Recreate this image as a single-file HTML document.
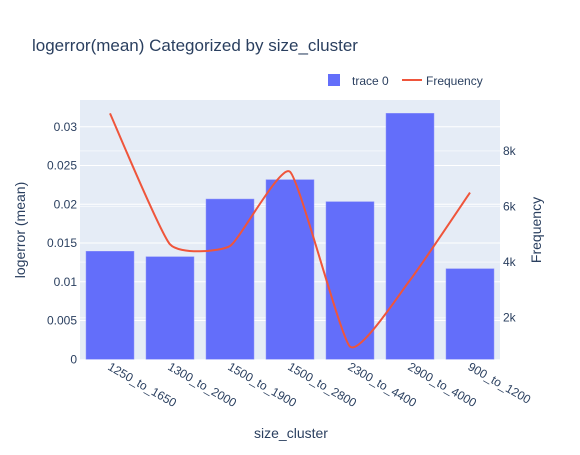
<!DOCTYPE html>
<html><head><meta charset="utf-8"><style>
body{margin:0;background:#fff;}
svg{font-family:"Liberation Sans",sans-serif;}
</style></head><body>
<svg id="chart" width="580" height="450" xmlns="http://www.w3.org/2000/svg">
<rect width="580" height="450" fill="#fff"/>
<text x="32" y="51" font-size="17" fill="#2a3f5f">logerror(mean) Categorized by size_cluster</text>
<rect x="80" y="100" width="420" height="259.3" fill="#e5ecf6"/>
<g id="grid"></g><g id="bars"></g><g id="line"></g><g id="axes"></g>
<g>
<rect x="328" y="74" width="12" height="12" fill="#636efa"/>
<text x="352" y="85" font-size="12" fill="#2a3f5f">trace 0</text>
<line x1="402" y1="80" x2="422" y2="80" stroke="#ef553b" stroke-width="2"/>
<text x="426" y="85" font-size="12" fill="#2a3f5f">Frequency</text>
</g>
<text x="291" y="438" font-size="14" fill="#2a3f5f" text-anchor="middle">size_cluster</text>
<text transform="translate(25,230) rotate(-90)" font-size="14" fill="#2a3f5f" text-anchor="middle">logerror (mean)</text>
<text transform="translate(541,230) rotate(-90)" font-size="14" fill="#2a3f5f" text-anchor="middle">Frequency</text>
</svg>
<script>
const categories=["1250_to_1650","1300_to_2000","1500_to_1900","1500_to_2800","2300_to_4400","2900_to_4000","900_to_1200"];
const logerrorMean=[0.01394,0.01324,0.02068,0.02318,0.02034,0.03174,0.01169];
const frequency=[9350,4640,4580,7250,960,3350,6500];
const yTicks=[0,0.005,0.01,0.015,0.02,0.025,0.03];
const yTickLabels=["0","0.005","0.01","0.015","0.02","0.025","0.03"];
const y2Ticks=[2000,4000,6000,8000];
const y2TickLabels=["2k","4k","6k","8k"];

const NS="http://www.w3.org/2000/svg";
const L=80,R=500,T=100,B=359.3;
const step=(R-L)/categories.length;
const xC=i=>L+step*(i+0.5);
const yL=v=>B-v*7750;
const y2=v=>373.3-v*0.0278;
function mk(tag,attrs,parent){const e=document.createElementNS(NS,tag);for(const k in attrs)e.setAttribute(k,attrs[k]);parent.appendChild(e);return e;}
const grid=document.getElementById('grid'),bars=document.getElementById('bars'),line=document.getElementById('line'),axes=document.getElementById('axes');
y2Ticks.forEach((v,i)=>{
  const g=mk('line',{x1:L,x2:R,y1:y2(v),y2:y2(v),stroke:'#fff','stroke-width':1,opacity:0.6},grid);
  
  
  const t=mk('text',{x:R+3,y:y2(v)+4,'font-size':12,fill:'#2a3f5f'},axes);
  t.textContent=y2TickLabels[i];
  
  
});
yTicks.forEach((v,i)=>{
  if(v>0){const g=mk('line',{x1:L,x2:R,y1:yL(v),y2:yL(v),stroke:'#fff','stroke-width':1},grid);
  
  }
  const t=mk('text',{x:L-3,y:yL(v)+4,'font-size':12,fill:'#2a3f5f','text-anchor':'end'},axes);
  t.textContent=yTickLabels[i];
  
  
});
const bw=step*0.8;
logerrorMean.forEach((v,i)=>{
  const r=mk('rect',{x:xC(i)-bw/2,y:yL(v),width:bw,height:B-yL(v),fill:'#636efa',stroke:'#8f96fb','stroke-width':0.5},bars);
  
  
});
const pts=frequency.map((v,i)=>[xC(i),y2(v)]);
let d='M'+pts[0][0]+','+pts[0][1];
for(let i=0;i<pts.length-1;i++){
  const p0=pts[Math.max(0,i-1)],p1=pts[i],p2=pts[i+1],p3=pts[Math.min(pts.length-1,i+2)];
  const k=0.08;
  d+=' C'+(p1[0]+(p2[0]-p0[0])*k)+','+(p1[1]+(p2[1]-p0[1])*k)+' '+(p2[0]-(p3[0]-p1[0])*k)+','+(p2[1]-(p3[1]-p1[1])*k)+' '+p2[0]+','+p2[1];
}
const pl=mk('path',{d:d,fill:'none',stroke:'#ef553b','stroke-width':2},line);


categories.forEach((c,i)=>{
  const x=xC(i)-3,y=369;
  const t=mk('text',{x:x,y:y,'font-size':12,fill:'#2a3f5f',transform:'rotate(30 '+x+' '+y+')'},axes);
  t.textContent=c;
  
  
});
</script>
</body></html>
